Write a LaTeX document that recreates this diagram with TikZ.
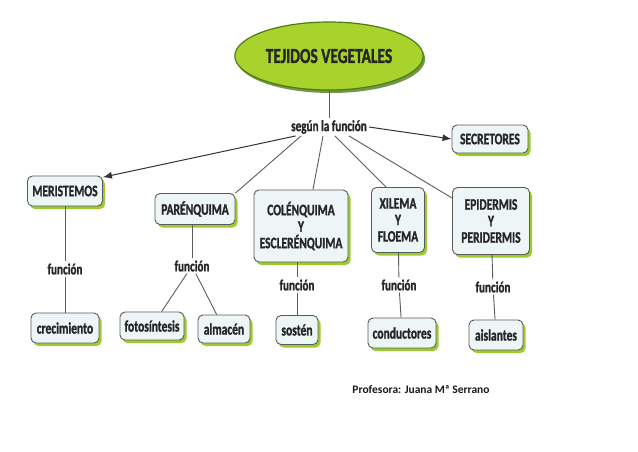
\documentclass[tikz,border=0pt]{standalone}
\usepackage{fontspec}
\setmainfont{Carlito}[FakeStretch=0.72, BoldFeatures={FakeBold=1.2}]
\newfontfamily\footfont{Carlito}
\usetikzlibrary{shapes.geometric,shadows,arrows.meta}

\definecolor{leafgreen}{HTML}{A8D22C}
\definecolor{leafdark}{HTML}{4E7D18}
\definecolor{boxfill}{HTML}{EEF5F7}
\definecolor{boxline}{HTML}{5A5A5A}
\definecolor{shadowgreen}{HTML}{9CCB2E}
\definecolor{linkgray}{HTML}{5C5C5C}

\tikzset{
  concept/.style={draw=boxline, line width=0.9pt, fill=boxfill, rounded corners=5pt,
    align=center, font=\fontsize{16}{16.5}\selectfont\bfseries, text=black!85,
    inner xsep=3pt, inner ysep=3pt,
    drop shadow={shadow xshift=2.5pt, shadow yshift=-3pt, fill=shadowgreen, opacity=1}},
  linklabel/.style={font=\fontsize{15.5}{16}\selectfont\bfseries, text=black!85, inner sep=2pt},
  link/.style={draw=linkgray, line width=0.9pt},
  arrowlink/.style={draw=black!80, line width=1pt, -{Latex[length=9pt,width=7pt]}},
}

\begin{document}
\begin{tikzpicture}[x=1pt, y=-1pt]
    \fill[white] (0,0) rectangle (638,451);
    \useasboundingbox (0,0) rectangle (638,451);

    % Title
    \node[ellipse, draw=leafdark, line width=1.2pt, fill=leafgreen, minimum width=145pt, minimum height=68pt,
      font=\fontsize{21.5}{22}\selectfont\bfseries, text=black!85,
      drop shadow={shadow xshift=2pt, shadow yshift=-3pt, fill=leafdark!80, opacity=1}] (tejidos) at (329,56) {TEJIDOS VEGETALES};
    \node[linklabel] (segun) at (329,127) {según la función};

    % Tissues
    \node[concept, minimum width=76pt, minimum height=28pt] (secretores) at (490,139) {SECRETORES};
    \node[concept, minimum width=75pt, minimum height=30pt] (meristemos) at (65,191) {MERISTEMOS};
    \node[concept, minimum width=80pt, minimum height=31pt] (parenquima) at (195,209) {PARÉNQUIMA};
    \node[concept, minimum width=94pt, minimum height=72pt] (colenquima) at (301,226) {COLÉNQUIMA\\Y\\ESCLERÉNQUIMA};
    \node[concept, minimum width=53pt, minimum height=65pt] (xilema) at (398,220) {XILEMA\\Y\\FLOEMA};
    \node[concept, minimum width=77pt, minimum height=67pt] (epidermis) at (491,221) {EPIDERMIS\\Y\\PERIDERMIS};

    % Functions
    \node[linklabel] (func1) at (65,269) {función};
    \node[linklabel] (func2) at (192,266) {función};
    \node[linklabel] (func3) at (297,285) {función};
    \node[linklabel] (func4) at (399,285) {función};
    \node[linklabel] (func5) at (493,287) {función};

    \node[concept, minimum width=68pt, minimum height=30pt] (crecimiento) at (65,328) {crecimiento};
    \node[concept, minimum width=64pt, minimum height=28pt] (fotosintesis) at (152,326) {fotosíntesis};
    \node[concept, minimum width=52pt, minimum height=28pt] (almacen) at (224,329) {almacén};
    \node[concept, minimum width=42pt, minimum height=29pt] (sosten) at (297,330) {sostén};
    \node[concept, minimum width=68pt, minimum height=30pt] (conductores) at (402,333) {conductores};
    \node[concept, minimum width=54pt, minimum height=30pt] (aislantes) at (496,335) {aislantes};

    \node[font={\footfont\bfseries\fontsize{11.5}{13}\selectfont}, text=black!90] (autora) at (421,390) {Profesora: Juana Mª Serrano};

    % Edges
    \draw[link] (tejidos) -- (segun);
    \draw[arrowlink] (segun.east) -- (secretores.west);
    \draw[arrowlink] (segun.195) -- (meristemos.20);
    \draw[link] ([xshift=12pt]segun.south west) -- (parenquima.north east);
    \draw[link] ([xshift=34pt]segun.south west) -- ([xshift=12pt]colenquima.north);
    \draw[link] ([xshift=46pt]segun.south west) -- ([xshift=-12pt]xilema.north);
    \draw[link] ([xshift=60pt]segun.south west) -- ([yshift=-11pt]epidermis.north west);

    \draw[link] (meristemos) -- (func1);
    \draw[link] (func1) -- (crecimiento);
    \draw[link] (parenquima.south -| func2) -- (func2);
    \draw[link] (func2) -- (fotosintesis);
    \draw[link] (func2) -- (almacen);
    \draw[link] (colenquima.south -| func3) -- (func3);
    \draw[link] (func3) -- (sosten);
    \draw[link] (xilema) -- (func4);
    \draw[link] (func4) -- (conductores);
    \draw[link] (epidermis) -- (func5);
    \draw[link] (func5) -- (aislantes);
\end{tikzpicture}
\end{document}
